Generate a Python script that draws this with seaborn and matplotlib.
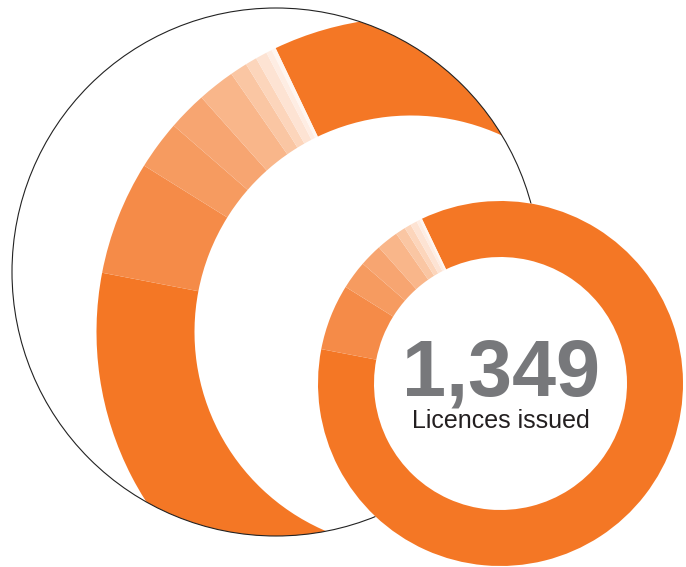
import matplotlib
matplotlib.use("Agg")
import matplotlib.pyplot as plt
from matplotlib.patches import Circle
import seaborn as sns
import pandas as pd

# ---- data ----
categories = ["Category 1", "Category 2", "Category 3", "Category 4", "Category 5",
              "Category 6", "Category 7", "Category 8", "Category 9", "Category 10"]
licences = [1148, 79, 34, 27, 26, 12, 8, 8, 4, 3]
slice_colors = ["#F47725", "#F58B48", "#F69B60", "#F7A571", "#F9B68A",
                "#FAC6A3", "#FCD5BB", "#FDE3D3", "#FEEDE3", "#FFF6F0"]
total_label = "1,349"
subtitle = "Licences issued"

df = pd.DataFrame({"category": categories, "licences": licences, "color": slice_colors})

sns.set_theme(style="white")
plt.rcParams["font.family"] = ["Liberation Sans", "DejaVu Sans"]

W, H = 686, 567
fig = plt.figure(figsize=(W / 100, H / 100), dpi=100)
ax = fig.add_axes([0, 0, 1, 1])
ax.set_xlim(0, W)
ax.set_ylim(0, H)
ax.set_aspect("equal")
ax.axis("off")


def py(y):
    return H - y


START = 115.5

# big magnifier circle
big_c = (276, py(272))
big_r = 264
ax.add_patch(Circle(big_c, big_r, facecolor="white", edgecolor="none", zorder=1))
clip = Circle(big_c, big_r, transform=ax.transData)

# zoomed donut (clipped to the magnifier circle)
zc = (411, py(332))
zr_out, zr_in = 314.5, 216.5
wedges, _ = ax.pie(df["licences"], colors=df["color"], startangle=START, counterclock=False,
                   radius=zr_out, center=zc, frame=True,
                   wedgeprops=dict(width=zr_out - zr_in, linewidth=0))
for w in wedges:
    w.set_clip_on(True)
    w.set_clip_path(clip)
    w.set_zorder(2)
ax.add_patch(Circle(big_c, big_r, facecolor="none", edgecolor="#222222", lw=0.8, zorder=3))

# small donut
sc = (500.5, py(383.5))
sr_out, sr_in = 182.5, 126.5
ax.add_patch(Circle(sc, sr_out, facecolor="white", edgecolor="none", zorder=4))
wedges2, _ = ax.pie(df["licences"], colors=df["color"], startangle=START, counterclock=False,
                    radius=sr_out, center=sc, frame=True,
                    wedgeprops=dict(width=sr_out - sr_in, linewidth=0))
for w in wedges2:
    w.set_zorder(5)

ax.set_xlim(0, W)
ax.set_ylim(0, H)
ax.axis("off")

ax.text(501, py(395), total_label, ha="center", va="baseline", fontsize=57,
        fontweight="bold", color="#77787B", zorder=6)
ax.text(500.5, py(428.3), subtitle, ha="center", va="baseline", fontsize=18,
        color="#231F20", zorder=6)

fig.savefig("out.png", dpi=100)
